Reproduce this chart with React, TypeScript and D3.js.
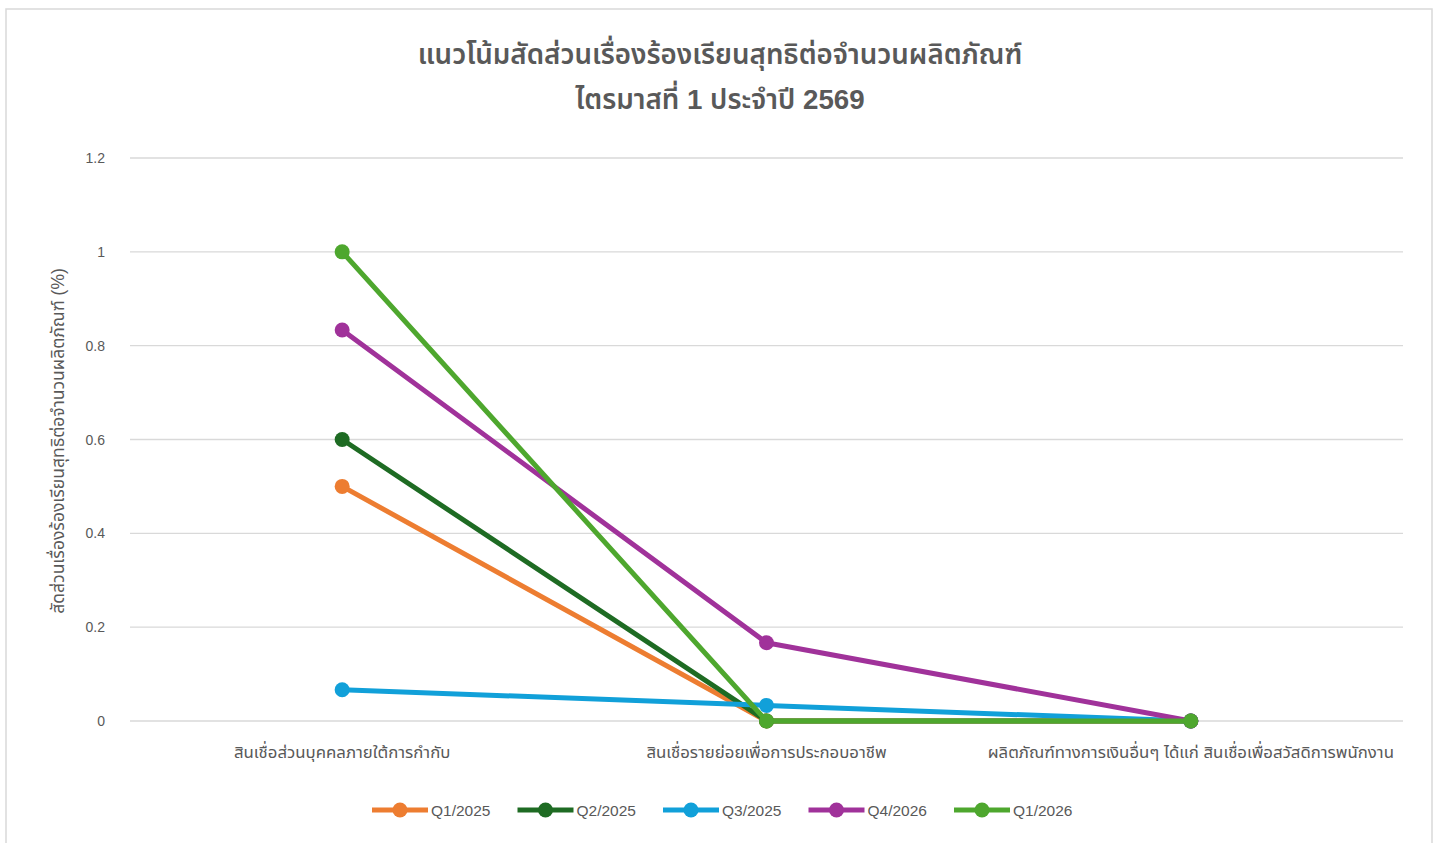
import React from "react";
import * as d3 from "d3";

const categories = [
  "สินเชื่อส่วนบุคคลภายใต้การกำกับ",
  "สินเชื่อรายย่อยเพื่อการประกอบอาชีพ",
  "ผลิตภัณฑ์ทางการเงินอื่นๆ ได้แก่ สินเชื่อเพื่อสวัสดิการพนักงาน",
];
const seriesNames = ["Q1/2025", "Q2/2025", "Q3/2025", "Q4/2026", "Q1/2026"];
const seriesColors = ["#ED7D31", "#1E6B23", "#11A0D9", "#A0329A", "#4EA72E"];
const q1_2025 = [0.5, 0, 0];
const q2_2025 = [0.6, 0, 0];
const q3_2025 = [0.0667, 0.0333, 0];
const q4_2026 = [0.8333, 0.1667, 0];
const q1_2026 = [1, 0, 0];
const seriesValues = [q1_2025, q2_2025, q3_2025, q4_2026, q1_2026];
const yTicks = [0, 0.2, 0.4, 0.6, 0.8, 1, 1.2];
const titleLines = ["แนวโน้มสัดส่วนเรื่องร้องเรียนสุทธิต่อจำนวนผลิตภัณฑ์", "ไตรมาสที่ 1 ประจำปี 2569"];
const yAxisTitle = "สัดส่วนเรื่องร้องเรียนสุทธิต่อจำนวนผลิตภัณฑ์ (%)";

const FONT = "'Liberation Sans', 'Noto Sans Thai', Tahoma, 'Noto Sans', sans-serif";

export default function App() {
  const W = 1443, H = 843;
  const left = 130, right = 1403, top = 158, bottom = 721;
  const x = d3.scaleBand<string>().domain(categories).range([left, right]);
  const y = d3.scaleLinear().domain([0, 1.2]).range([bottom, top]);
  const line = d3.line<number>()
    .x((_, i) => (x(categories[i]) as number) + x.bandwidth() / 2)
    .y((d) => y(d));
  const legendStart = 372;
  const legendStep = 145.5;
  return (
    <svg width={W} height={H} style={{ position: "absolute", left: 0, top: 0, background: "#fff" }} fontFamily={FONT}>
      <rect x={6} y={9} width={1426} height={845} fill="#fff" stroke="#d9d9d9" strokeWidth={1.5} />
      {titleLines.map((t, i) => (
        <text key={i} x={720} y={64 + i * 45} textAnchor="middle" fontSize={27.7} fontWeight={600} fill="#595959">{t}</text>
      ))}
      {yTicks.map((t) => (
        <g key={t}>
          <line x1={left} x2={right} y1={y(t)} y2={y(t)} stroke="#d9d9d9" strokeWidth={1.3} />
          <text x={105} y={y(t) + 5} textAnchor="end" fontSize={14} fill="#595959">{d3.format("~g")(t)}</text>
        </g>
      ))}
      {categories.map((c) => (
        <text key={c} x={(x(c) as number) + x.bandwidth() / 2} y={758} textAnchor="middle" fontSize={16.8} fill="#595959">{c}</text>
      ))}
      <text transform={`translate(64,441) rotate(-90)`} textAnchor="middle" fontSize={17.5} fill="#595959">{yAxisTitle}</text>
      {seriesValues.map((vals, si) => (
        <g key={si}>
          <path d={line(vals) as string} fill="none" stroke={seriesColors[si]} strokeWidth={5} strokeLinejoin="round" />
          {vals.map((v, i) => (
            <circle key={i} cx={(x(categories[i]) as number) + x.bandwidth() / 2} cy={y(v)} r={7.5} fill={seriesColors[si]} />
          ))}
        </g>
      ))}
      {seriesNames.map((n, i) => {
        const lx = legendStart + i * legendStep;
        return (
          <g key={n}>
            <line x1={lx} x2={lx + 56} y1={810} y2={810} stroke={seriesColors[i]} strokeWidth={5} />
            <circle cx={lx + 28} cy={810} r={7.5} fill={seriesColors[i]} />
            <text x={lx + 59} y={815.5} fontSize={15.5} fill="#595959">{n}</text>
          </g>
        );
      })}
    </svg>
  );
}
